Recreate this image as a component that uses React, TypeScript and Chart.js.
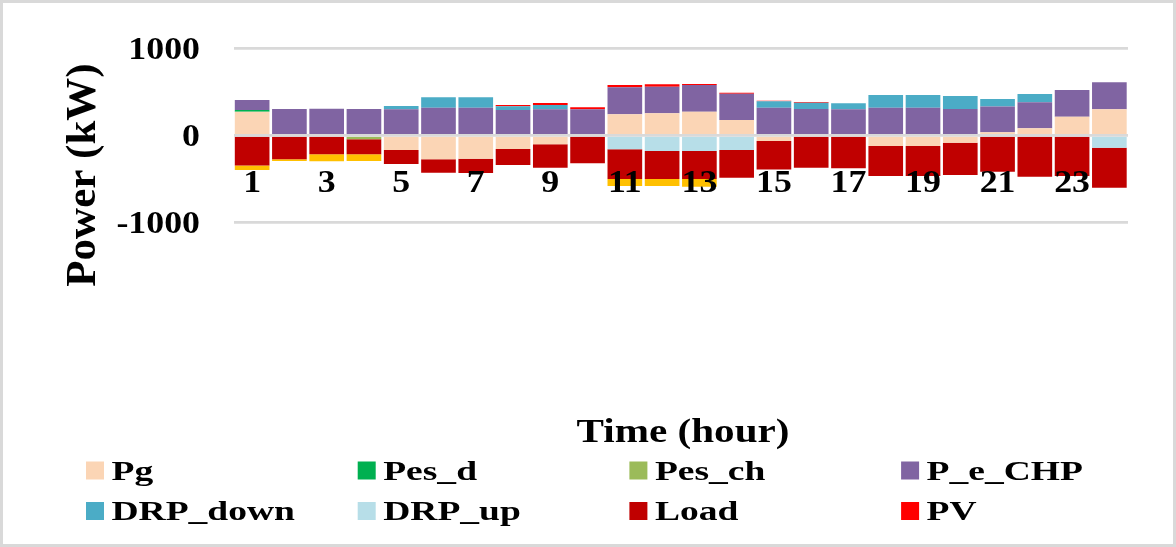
import { useEffect, useRef } from "react";
import { Chart, registerables } from "chart.js";

Chart.register(...registerables);

const hours = ["1", "2", "3", "4", "5", "6", "7", "8", "9", "10", "11", "12", "13", "14", "15", "16", "17", "18", "19", "20", "21", "22", "23", "24"];
const shownHours = ["1", "3", "5", "7", "9", "11", "13", "15", "17", "19", "21", "23"];
const yTickValues = [1000, 0, -1000];

// kW (negative = consumption / export side)
const pg = [271, 0, 0, 0, -169, -276, -270, -158, -103, 0, 241, 253, 271, 176, -66, 0, 0, -123, -123, -85, 35, 80, 214, 299];
const pesD = [20, 0, 0, 0, 0, 0, 0, 0, 0, 0, 0, 0, 0, 0, 0, 0, 0, 0, 0, 0, 0, 0, 0, 0];
const pesCh = [0, 0, 0, -45, 0, 0, 0, 0, 0, 0, 0, 0, 0, 0, 0, 0, 0, 0, 0, 0, 0, 0, 0, 0];
const pCHP = [115, 302, 306, 302, 299, 317, 317, 291, 299, 299, 310, 306, 306, 302, 318, 302, 299, 317, 317, 302, 295, 299, 306, 310];
const drpDown = [0, 0, 0, 0, 38, 120, 120, 42, 49, 0, 0, 0, 0, 0, 73, 73, 69, 146, 146, 150, 88, 96, 0, 0];
const drpUp = [0, 0, 0, 0, 0, 0, 0, 0, 0, 0, -161, -180, -180, -169, 0, 0, 0, 0, 0, 0, 0, 0, 0, -143];
const load = [-347, -276, -218, -172, -161, -154, -164, -184, -269, -322, -341, -322, -322, -318, -326, -372, -380, -345, -345, -372, -419, -476, -468, -460];
const pv = [0, 0, 0, 0, 0, 0, 0, 15, 23, 23, 26, 27, 12, 12, 6, 8, 0, 0, 0, 0, 0, 0, 0, 0];
const pHP = [-52, -20, -80, -77, 0, 0, 0, 0, 0, 0, -80, -80, -88, 0, 0, 0, 0, 0, 0, 0, 0, 0, 0, 0];

const legendLabels = ["Pg", "Pes_d", "Pes_ch", "P_e_CHP", "DRP_down", "DRP_up", "Load", "PV"];

const FONT = '"Liberation Serif", "Times New Roman", serif';

function drawText(
  ctx: CanvasRenderingContext2D,
  text: string,
  x: number,
  y: number,
  size: number,
  sx: number,
  align: CanvasTextAlign
) {
  ctx.save();
  ctx.font = `bold ${size}px ${FONT}`;
  ctx.fillStyle = "#000";
  ctx.textAlign = align;
  ctx.textBaseline = "alphabetic";
  ctx.translate(x, y);
  ctx.scale(sx, 1);
  ctx.fillText(text, 0, 0);
  ctx.restore();
}

const figureText = {
  id: "figureText",
  beforeDraw(chart: any) {
    const ctx = chart.ctx;
    ctx.save();
    ctx.fillStyle = "#fff";
    ctx.fillRect(0, 0, chart.width, chart.height);
    ctx.restore();
  },
  afterDraw(chart: any) {
    const ctx: CanvasRenderingContext2D = chart.ctx;
    const x = chart.scales.x;
    const y = chart.scales.y;

    // y tick labels
    yTickValues.forEach((v) => {
      drawText(ctx, String(v), 200, y.getPixelForValue(v) + 11, 32, 1.12, "right");
    });

    // x labels sit just under the zero line
    const zero = y.getPixelForValue(0);
    shownHours.forEach((h) => {
      const i = hours.indexOf(h);
      drawText(ctx, h, x.getPixelForValue(i), zero + 57, 32, 1.12, "center");
    });

    // axis titles
    ctx.save();
    ctx.translate(95, 175);
    ctx.rotate(-Math.PI / 2);
    ctx.font = `bold 43px ${FONT}`;
    ctx.fillStyle = "#000";
    ctx.textAlign = "center";
    ctx.textBaseline = "alphabetic";
    ctx.fillText("Power (kW)", 0, 0);
    ctx.restore();

    drawText(ctx, "Time (hour)", 683, 442, 34, 1.21, "center");

    // legend, 4 columns x 2 rows
    const items = chart.data.datasets.filter((d: any) => legendLabels.includes(d.label));
    items.forEach((d: any, k: number) => {
      const col = k % 4;
      const row = Math.floor(k / 4);
      const mx = 86 + col * 271.7;
      const base = row === 0 ? 479.5 : 520;
      ctx.fillStyle = d.backgroundColor;
      ctx.fillRect(mx, base - 18, 18, 18);
      drawText(ctx, d.label, mx + 25.5, base, 28, 1.34, "left");
    });

    // frame
    ctx.save();
    ctx.strokeStyle = "#d9d9d9";
    ctx.lineWidth = 3;
    ctx.strokeRect(1.5, 1.5, chart.width - 3, chart.height - 3);
    ctx.restore();
  },
};

export default function App() {
  const chartRef = useRef<HTMLCanvasElement | null>(null);
  const chartInstanceRef = useRef<Chart | null>(null);

  useEffect(() => {
    if (!chartRef.current) return;
    const ctx = chartRef.current.getContext("2d");
    if (!ctx) return;

    if (chartInstanceRef.current) {
      chartInstanceRef.current.destroy();
    }

    const bar = (label: string, data: number[], color: string) => ({
      label,
      data,
      backgroundColor: color,
      borderWidth: 0,
      stack: "s",
      categoryPercentage: 1,
      barPercentage: 0.93,
    });

    chartInstanceRef.current = new Chart(ctx, {
      type: "bar",
      data: {
        labels: hours,
        datasets: [
          bar("Pg", pg, "#FBD5B5"),
          bar("Pes_d", pesD, "#00B050"),
          bar("Pes_ch", pesCh, "#9BBB59"),
          bar("P_e_CHP", pCHP, "#8064A2"),
          bar("DRP_down", drpDown, "#4BACC6"),
          bar("DRP_up", drpUp, "#B7DEE8"),
          bar("Load", load, "#C00000"),
          bar("PV", pv, "#FF0000"),
          bar("P_HP", pHP, "#FFC000"),
        ],
      },
      options: {
        responsive: false,
        animation: false,
        layout: { padding: { left: 233.5, right: 48, top: 48.3, bottom: 150.7 } },
        scales: {
          x: {
            display: false,
            stacked: true,
          },
          y: {
            stacked: true,
            min: -3000,
            max: 1000,
            afterBuildTicks: (s: any) => {
              s.ticks = yTickValues.map((v) => ({ value: v }));
            },
            afterFit: (s: any) => {
              s.width = 0;
            },
            ticks: { display: false },
            grid: { color: "#d9d9d9", lineWidth: 2.7, drawTicks: false, z: 1 },
            border: { display: false },
          },
        },
        plugins: {
          legend: { display: false },
          tooltip: { enabled: false },
        },
      },
      plugins: [figureText],
    });

    return () => {
      chartInstanceRef.current?.destroy();
    };
  }, []);

  return (
    <div style={{ position: "fixed", left: 0, top: 0, width: 1176, height: 547, background: "#fff" }}>
      <canvas ref={chartRef} width={1176} height={547}></canvas>
    </div>
  );
}
